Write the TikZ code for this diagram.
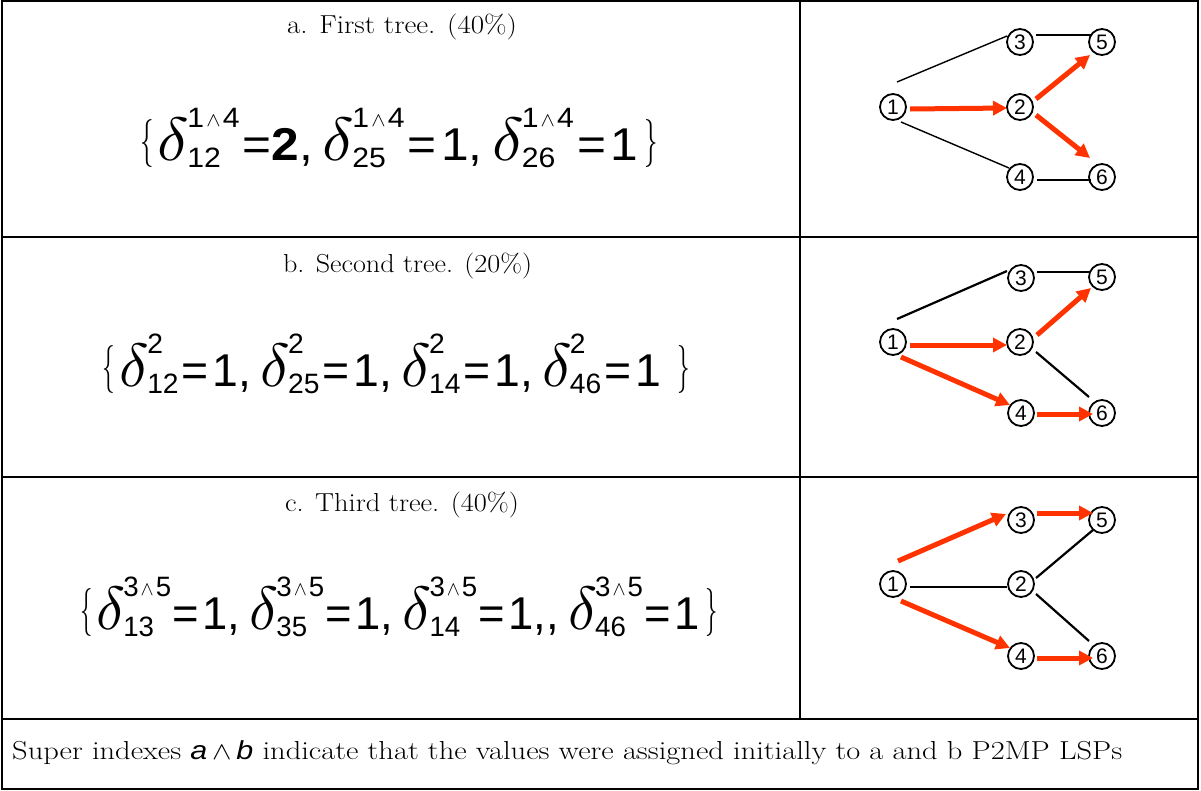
\documentclass[tikz,border=0pt]{standalone}
\usepackage{fontspec}
\usepackage{graphicx}
\usetikzlibrary{arrows.meta,calc}
\newfontfamily\arial{Liberation Sans}
\definecolor{lspred}{RGB}{255,51,0}
\newsavebox\subbox
\newsavebox\supbox
\newsavebox\fitbox
\newlength\scrw
\newlength\fitlen
\newcommand{\nfont}{\arial\fontsize{46}{46}\selectfont}
\newcommand{\scr}{\arial\fontsize{28}{28}\selectfont}
\newcommand{\lb}{\raisebox{5pt}{\scalebox{2.5}[4.8]{$\{$}}}
\newcommand{\rb}{\raisebox{5pt}{\scalebox{2.5}[4.8]{$\}$}}}
\newcommand{\wg}{\kern2pt\raisebox{1pt}{\scalebox{0.8}{$\wedge$}}\kern2pt}
\newcommand{\scripts}[2]{%
  \sbox\subbox{\scr #1}\sbox\supbox{\scr #2}%
  \ifdim\wd\subbox>\wd\supbox\setlength\scrw{\wd\subbox}\else\setlength\scrw{\wd\supbox}\fi
  \makebox[\scrw][l]{\rlap{\raisebox{-7pt}{\usebox\subbox}}\raisebox{33pt}{\usebox\supbox}}}
\newcommand{\dlt}[2]{\scalebox{6.1}{$\delta$}\kern-2pt\scripts{#1}{#2}}
\newcommand{\eqv}[1]{{\nfont=\kern4pt#1}}
\newcommand{\cm}{{\nfont,}\kern9pt}
\newcommand{\fitw}[2]{\sbox\fitbox{#2}\setlength\fitlen{\wd\fitbox}%
  \pgfmathsetmacro\fitr{#1/\fitlen}\scalebox{\fitr}[1]{\usebox\fitbox}}
\tikzset{
  vtx/.style={circle, draw, line width=1.8pt, minimum size=26pt, inner sep=0pt,
    fill=white, font=\arial\fontsize{21}{21}\selectfont},
  lnk/.style={line width=2.2pt},
  lnkthin/.style={line width=1.4pt},
  lsp/.style={draw=lspred, line width=5pt, -{Triangle[length=14pt,width=14pt]}, color=lspred},
  gridline/.style={line width=1.5pt},
  title/.style={anchor=base, font=\fontsize{26}{30}\selectfont, inner sep=0pt},
  formula/.style={anchor=base, inner sep=0pt},
}
\begin{document}
\begin{tikzpicture}[x=1pt,y=-1pt]
\useasboundingbox (0,0) rectangle (1201,790);
% table
\draw[gridline] (2,1) rectangle (1198,789);
\draw[line width=2.5pt] (2,237) -- (1198,237);
\draw[gridline] (2,477) -- (1198,477);
\draw[gridline] (2,719) -- (1198,719);
\draw[gridline] (800,1) -- (800,719);
% titles
\node[title] (ta) at (402,33) {\fitw{230}{a. First tree. (40\%)}};
\node[title] (tb) at (407.5,272) {\fitw{249}{b. Second tree. (20\%)}};
\node[title] (tc) at (402,511) {\fitw{234}{c. Third tree. (40\%)}};
% formulas
\node[formula] (fa) at (399,160) {\fitw{518}{\lb\kern4pt\dlt{12}{1\wg 4}\kern3pt{\nfont=\textbf{2}}\cm\dlt{25}{1\wg 4}\kern3pt\eqv{1}\cm\dlt{26}{1\wg 4}\kern3pt\eqv{1}\kern6pt\rb}};
\node[formula] (fb) at (396.5,386) {\fitw{587}{\lb\kern4pt\dlt{12}{2}\kern3pt\eqv{1}\cm\dlt{25}{2}\kern3pt\eqv{1}\cm\dlt{14}{2}\kern3pt\eqv{1}\cm\dlt{46}{2}\kern3pt\eqv{1}\kern16pt\rb}};
\node[formula] (fc) at (399,629) {\fitw{638}{\lb\kern4pt\dlt{13}{3\wg 5}\kern1pt\eqv{1}\cm\dlt{35}{3\wg 5}\kern1pt\eqv{1}\cm\dlt{14}{3\wg 5}\kern1pt\eqv{1}{\nfont,}\cm\dlt{46}{3\wg 5}\kern1pt\eqv{1}\kern6pt\rb}};
% caption
\node[anchor=base west, inner sep=0pt, font=\fontsize{26}{30}\selectfont] (cap) at (12,759) {\fitw{1110}{Super indexes {\arial\itshape a}$\,\wedge\,${\arial\itshape b} indicate that the values were assigned initially to a and b P2MP LSPs}};
% panel a
\node[vtx] (a1) at (893,107) {1};
\node[vtx] (a2) at (1020,107) {2};
\node[vtx] (a3) at (1020,42) {3};
\node[vtx] (a5) at (1102,42) {5};
\node[vtx] (a4) at (1020,177) {4};
\node[vtx] (a6) at (1102,177) {6};
\draw[lnkthin] ($(a1)+(4,-25)$) -- ($(a3)+(-13,-6)$);
\draw[lnkthin] ($(a3)+(16,-7)$) -- ($(a5)+(-11,-7)$);
\draw[lnkthin] ($(a1)+(8,15)$) -- ($(a4)+(-11,-9)$);
\draw[lnkthin] ($(a4)+(17,3)$) -- ($(a6)+(-11,3)$);
\draw[lsp] ($(a1)+(17,2)$) -- ($(a2)+(-13,1)$);
\draw[lsp] ($(a2)+(16,-8)$) -- ($(a5)+(-12,13)$);
\draw[lsp] ($(a2)+(16,8)$) -- ($(a6)+(-12,-19)$);
% panel b
\node[vtx] (b1) at (893,342) {1};
\node[vtx] (b2) at (1020,342) {2};
\node[vtx] (b3) at (1021,278) {3};
\node[vtx] (b5) at (1102,277) {5};
\node[vtx] (b4) at (1021,413) {4};
\node[vtx] (b6) at (1102,413) {6};
\draw[lnk] ($(b1)+(4,-23)$) -- ($(b3)+(-14,-7)$);
\draw[lnk] ($(b3)+(16,-6)$) -- ($(b5)+(-11,-5)$);
\draw[lsp] ($(b1)+(17,3)$) -- ($(b2)+(-13,3)$);
\draw[lsp] ($(b2)+(17,-7)$) -- ($(b5)+(-11,11)$);
\draw[lnk] ($(b2)+(16,10)$) -- ($(b6)+(-13,-16)$);
\draw[lsp] ($(b1)+(8,15)$) -- ($(b4)+(-11,-8)$);
\draw[lsp] ($(b4)+(16,1)$) -- ($(b6)+(-9,1)$);
% panel c
\node[vtx] (c1) at (893,584) {1};
\node[vtx] (c2) at (1021,584) {2};
\node[vtx] (c3) at (1021,520) {3};
\node[vtx] (c5) at (1102,520) {5};
\node[vtx] (c4) at (1021,656) {4};
\node[vtx] (c6) at (1102,656) {6};
\draw[lsp] ($(c1)+(5,-23)$) -- ($(c3)+(-15,-6)$);
\draw[lsp] ($(c3)+(16,-7)$) -- ($(c5)+(-9,-7)$);
\draw[lnk] ($(c2)+(15,-6)$) -- ($(c5)+(-9,10)$);
\draw[lnk] ($(c1)+(17,3)$) -- ($(c2)+(-14,3)$);
\draw[lnk] ($(c2)+(15,10)$) -- ($(c6)+(-13,-15)$);
\draw[lsp] ($(c1)+(8,17)$) -- ($(c4)+(-11,-8)$);
\draw[lsp] ($(c4)+(16,2)$) -- ($(c6)+(-9,2)$);
\end{tikzpicture}
\end{document}
